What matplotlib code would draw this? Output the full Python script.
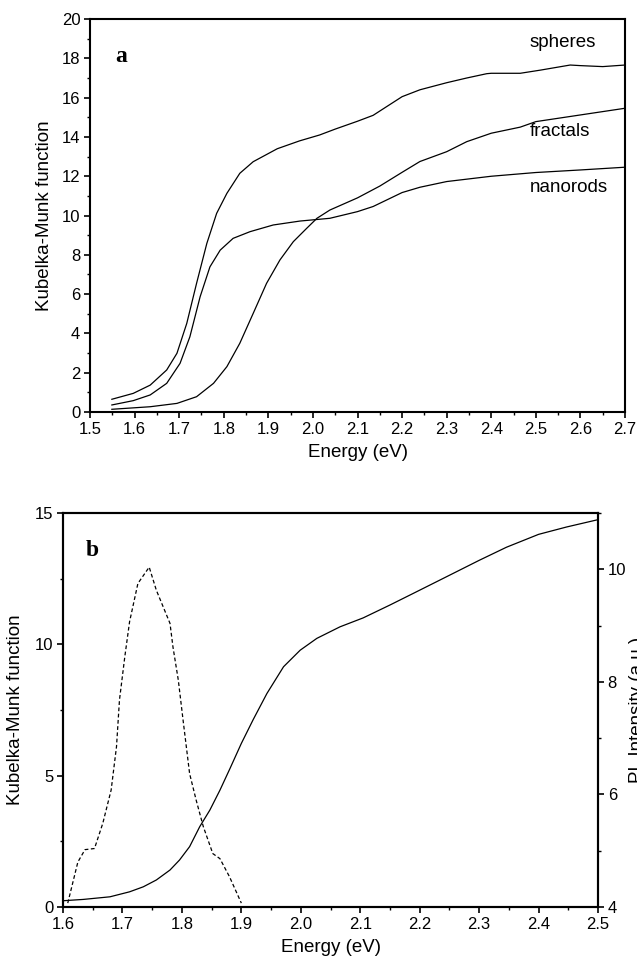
import numpy as np
import matplotlib
matplotlib.use('Agg')
import matplotlib.pyplot as plt
import matplotlib as mpl
from matplotlib.ticker import MultipleLocator

mpl.rcParams['font.family'] = ['Liberation Sans', 'DejaVu Sans']
fs = 13.5  # axis label font size
ts = 12.   # tick label font size

# Panel a: Kubelka-Munk function vs energy (eV).
E_spheres = [1.549, 1.597, 1.635, 1.672, 1.695, 1.717, 1.739, 1.762, 1.784,
             1.807, 1.836, 1.866, 1.92, 1.97, 2.015, 2.05, 2.10, 2.135,
             2.20, 2.24, 2.30, 2.345, 2.39, 2.40, 2.465, 2.51, 2.577, 2.60,
             2.65, 2.70]
km_spheres = [0.65, 0.95, 1.37, 2.14, 2.99, 4.51, 6.55, 8.58, 10.11,
              11.13, 12.15, 12.74, 13.4, 13.8, 14.1, 14.4, 14.8, 15.1,
              16.05, 16.4, 16.76, 17.0, 17.22, 17.24, 17.24, 17.4, 17.66, 17.63,
              17.58, 17.66]

E_fractals = [1.549, 1.635, 1.695, 1.739, 1.777, 1.807, 1.836, 1.866, 1.896,
              1.926, 1.956, 1.986, 2.009, 2.038, 2.06, 2.10, 2.15, 2.20, 2.24,
              2.30, 2.345, 2.40, 2.465, 2.50, 2.60, 2.70]
km_fractals = [0.14, 0.27, 0.44, 0.78, 1.46, 2.31, 3.5, 5.02, 6.55,
               7.74, 8.67, 9.35, 9.86, 10.28, 10.5, 10.9, 11.5, 12.2, 12.75,
               13.25, 13.76, 14.19, 14.5, 14.78, 15.12, 15.46]

E_nanorods = [1.549, 1.597, 1.635, 1.672, 1.702, 1.724, 1.747, 1.769, 1.792,
              1.821, 1.859, 1.911, 1.971, 2.038, 2.10, 2.135, 2.20, 2.24, 2.30,
              2.40, 2.50, 2.60, 2.70]
km_nanorods = [0.36, 0.58, 0.87, 1.46, 2.48, 3.83, 5.87, 7.39, 8.24,
               8.84, 9.18, 9.52, 9.72, 9.86, 10.2, 10.46, 11.17, 11.44, 11.73,
               12.0, 12.19, 12.32, 12.46]

# Panel b: fractals absorption (left axis) and PL (right axis).
E_abs = [1.60, 1.634, 1.679, 1.712, 1.735, 1.757, 1.780, 1.796, 1.813, 1.830,
         1.847, 1.864, 1.881, 1.90, 1.92, 1.943, 1.971, 1.999, 2.027, 2.066,
         2.105, 2.15, 2.189, 2.234, 2.30, 2.346, 2.40, 2.447, 2.50]
km_abs = [0.24, 0.29, 0.39, 0.58, 0.77, 1.03, 1.41, 1.79, 2.3, 3.06,
          3.69, 4.45, 5.28, 6.23, 7.14, 8.13, 9.15, 9.78, 10.23, 10.67,
          11.01, 11.5, 11.94, 12.45, 13.2, 13.7, 14.19, 14.47, 14.75]

E_pl = [1.608, 1.625, 1.637, 1.653, 1.667, 1.681, 1.690, 1.695, 1.704, 1.712,
        1.726, 1.745, 1.757, 1.780, 1.785, 1.794, 1.802, 1.813, 1.824, 1.836,
        1.852, 1.864, 1.880, 1.900]
pl = [4.07, 4.80, 5.02, 5.04, 5.49, 6.08, 6.85, 7.68, 8.45, 9.07,
      9.75, 10.04, 9.63, 9.04, 8.62, 8.03, 7.32, 6.37, 5.90, 5.43,
      4.95, 4.86, 4.54, 4.07]


def style_axis(ax):
    ax.tick_params(axis='both', which='major', labelsize=ts, length=4,
                   width=1.2, direction='out', pad=3)
    ax.tick_params(axis='both', which='minor', length=2.5, width=1.,
                   direction='out')
    for sp in ax.spines.values():
        sp.set_linewidth(1.5)


fig = plt.figure(figsize=(6.37, 9.67), dpi=100)

#Panel a.
ax1 = fig.add_axes([0.1413, 0.5739, 0.8399, 0.4064])
ax1.plot(E_spheres, km_spheres, color='k', lw=0.9)
ax1.plot(E_fractals, km_fractals, color='k', lw=0.9)
ax1.plot(E_nanorods, km_nanorods, color='k', lw=0.9)
ax1.set_xlim(1.5, 2.7)
ax1.set_ylim(0., 20.)
ax1.xaxis.set_major_locator(MultipleLocator(0.1))
ax1.xaxis.set_minor_locator(MultipleLocator(0.05))
ax1.yaxis.set_major_locator(MultipleLocator(2.))
ax1.yaxis.set_minor_locator(MultipleLocator(1.))
ax1.xaxis.set_major_formatter(lambda v, p: '%.1f' % v)
style_axis(ax1)
ax1.set_xlabel('Energy (eV)', fontsize=fs, labelpad=5)
ax1.set_ylabel('Kubelka-Munk function', fontsize=fs, labelpad=6)
ax1.text(0.047, 0.905, 'a', transform=ax1.transAxes, fontsize=17,
         fontweight='bold', family='Liberation Serif', va='center')
ax1.text(2.56, 18.8, 'spheres', fontsize=fs, va='center', ha='center')
ax1.text(2.555, 14.3, 'fractals', fontsize=fs, va='center', ha='center')
ax1.text(2.575, 11.45, 'nanorods', fontsize=fs, va='center', ha='center')

#Panel b.
ax2 = fig.add_axes([0.0989, 0.062, 0.8399, 0.4074])
ax2.plot(E_abs, km_abs, color='k', lw=0.9)
ax2.set_xlim(1.6, 2.5)
ax2.set_ylim(0., 15.)
ax2.xaxis.set_major_locator(MultipleLocator(0.1))
ax2.xaxis.set_minor_locator(MultipleLocator(0.05))
ax2.yaxis.set_major_locator(MultipleLocator(5.))
ax2.yaxis.set_minor_locator(MultipleLocator(2.5))
ax2.xaxis.set_major_formatter(lambda v, p: '%.1f' % v)
style_axis(ax2)
ax2.set_xlabel('Energy (eV)', fontsize=fs, labelpad=5)
ax2.set_ylabel('Kubelka-Munk function', fontsize=fs, labelpad=8)
ax2.text(0.043, 0.905, 'b', transform=ax2.transAxes, fontsize=17,
         fontweight='bold', family='Liberation Serif', va='center')

ax3 = ax2.twinx()
ax3.plot(E_pl, pl, color='k', lw=0.9, linestyle=(0, (3, 2)))
ax3.set_ylim(4., 11.)
ax3.yaxis.set_major_locator(MultipleLocator(2.))
ax3.yaxis.set_minor_locator(MultipleLocator(1.))
style_axis(ax3)
ax3.set_ylabel('PL Intensity (a.u.)', fontsize=fs, labelpad=2)

fig.savefig('out.png', dpi=100)
plt.close(fig)
